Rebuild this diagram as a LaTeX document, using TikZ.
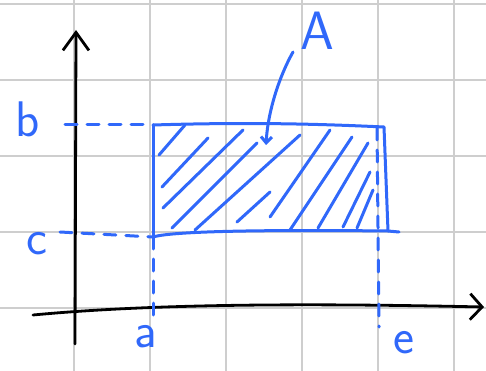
\documentclass[tikz,border=0pt]{standalone}
\usepackage{fontspec}
\usepackage{tikz}
\usetikzlibrary{arrows.meta}
\definecolor{penblue}{RGB}{48,104,250}
\definecolor{gridgray}{RGB}{206,206,206}

\begin{document}
\begin{tikzpicture}[x=1pt,y=-1pt, gridline/.style={gridgray,line width=1.6pt}, pen/.style={penblue,line width=3pt,line cap=round,line join=round}, dashpen/.style={pen,dash pattern=on 12pt off 10pt}, axis/.style={black,line width=2.8pt,line cap=round,line join=round}, lbl/.style={penblue,inner sep=0pt,font=\sffamily\fontsize{50}{50}\selectfont}]
\useasboundingbox (0,0) rectangle (486,371);
\fill[white] (0,0) rectangle (486,371);
\foreach \gx in {74,150,226,302,378,454} \draw[gridline] (\gx,0) -- (\gx,371);
\foreach \gy in {4,80,156,232,308} \draw[gridline] (0,\gy) -- (486,\gy);
\coordinate (xstart) at (33,315);
\coordinate (xend) at (484,307);
\coordinate (ystart) at (75,344);
\coordinate (yend) at (76,30);
\draw[axis,-{Straight Barb[length=12pt,width=26pt,line width=2.8pt]}] (xstart) .. controls (150,304) and (300,303) .. (xend);
\draw[axis,-{Straight Barb[length=18pt,width=26pt,line width=2.8pt]}] (ystart) -- (yend);
\coordinate (tl) at (153,125);
\coordinate (tr) at (384,127);
\coordinate (br) at (388,231);
\coordinate (bl) at (153,237);
\coordinate (bstub) at (65,125);
\coordinate (cstub) at (60,232);
\coordinate (astub) at (153,323);
\coordinate (etop) at (377,128);
\coordinate (ebot) at (379,327);
\coordinate (bend) at (399,232);
\draw[dashpen] (bstub) -- (tl);
\draw[dashpen] (cstub) -- (bl);
\draw[dashpen] (bl) -- (astub);
\draw[dashpen] (etop) -- (ebot);
\draw[pen] (tl) .. controls (250,122) and (320,124) .. (tr) -- (br);
\draw[pen] (bl) .. controls (175,230) and (300,230) .. (br) -- (bend);
\draw[pen] (tl) -- (bl);
\foreach \xa/\ya/\xb/\yb in {159/155/185/125, 162/187/208/138, 163/208/243/130, 172/228/257/143, 195/230/300/135, 237/222/270/192, 270/217/330/130, 290/230/352/137, 318/228/368/143, 343/227/370/172, 357/228/373/190}
  \draw[pen] (\xa,\ya) -- (\xb,\yb);
\node[lbl] (lb) at (28,119) {b};
\node[lbl] (lc) at (37,244) {c};
\node[lbl] (la) at (146,337) {a};
\node[lbl] (le) at (404,343) {e};
\node[lbl,font=\sffamily\fontsize{54}{54}\selectfont] (lA) at (317,31) {A};
\coordinate (Aleader) at (293,52);
\coordinate (Atip) at (266,145);
\draw[pen,-{Straight Barb[length=6pt,width=11pt]}] (Aleader) .. controls (280,75) and (268,110) .. (Atip);
\end{tikzpicture}
\end{document}
